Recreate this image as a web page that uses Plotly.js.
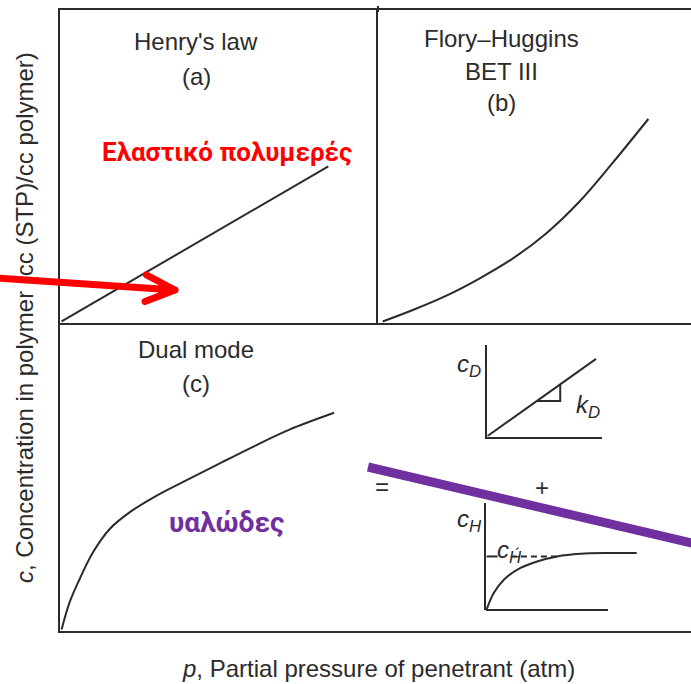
<!DOCTYPE html>
<html>
<head>
<meta charset="utf-8">
<script src="https://cdn.plot.ly/plotly-3.0.1.min.js"></script>
<style>
  html, body { margin: 0; padding: 0; background: #fff; }
  #chart { width: 691px; height: 684px; }
</style>
</head>
<body>
<div id="chart"></div>
<script>
// ---- Data (schematic units) ----
// (a) Henry's law
const henryP = [0, 8.43];
const henryC = [0, 4.98];
// (b) Flory–Huggins / BET III
const floryP = [0.1, 1.05, 2.13, 3.19, 4.26, 5.33, 6.39, 7.45, 8.63];
const floryC = [0, 0.36, 0.82, 1.37, 2.01, 2.81, 3.82, 5.05, 6.5];
// (c) Dual mode
const dualP = [0, 0.26, 0.58, 1.0, 1.53, 2.16, 3.01, 4.07, 5.12, 6.18, 7.24, 8.66];
const dualC = [0, 0.9, 1.66, 2.52, 3.28, 3.82, 4.36, 4.92, 5.47, 6.01, 6.52, 7.07];
// inset c_D (Henry part)
const cdP = [0, 9.48];
const cdC = [0, 8.47];
const slopeP = [4.32, 6.35, 6.35];
const slopeC = [3.86, 3.86, 5.67];
// inset c_H (Langmuir part)
const chP = [0, 0.6, 1.42, 2.79, 4.16, 5.8, 7.7, 10.16, 12.35];
const chC = [0, 1.56, 2.8, 3.9, 4.51, 4.98, 5.23, 5.3, 5.3];
const capSolidP = [0, 0.9];
const capDashP = [2.0, 5.8];
const capLevel = 4.98;

// ---- Text ----
const panelTitles = ["Henry's law", "(a)", "Flory–Huggins", "BET III", "(b)", "Dual mode", "(c)"];
const xTitle = "<i>p</i>, Partial pressure of penetrant (atm)";
const yTitle = "<i>c</i>, Concentration in polymer (cc (STP)/cc polymer)";
const redLabel = "Ελαστικό πολυμερές";
const purpleLabel = "υαλώδες";

const W = 691, H = 684;
const INK = '#2b2b2b';
const FONT = 'Liberation Sans, Arial, Helvetica, sans-serif';
const GREEK = 'Roboto, Noto Sans, sans-serif';

function ax(domain, range, extra) {
  return Object.assign({
    domain: domain, range: range, showgrid: false, zeroline: false,
    showticklabels: false, ticks: '', showline: false,
    linecolor: INK, linewidth: 2, fixedrange: true
  }, extra || {});
}
const yTop = [1 - 323 / H, 1 - 10 / H];

function line(x, y, xa, ya, extra) {
  return Object.assign({
    x: x, y: y, xaxis: xa, yaxis: ya, type: 'scatter', mode: 'lines',
    line: { color: INK, width: 2, shape: 'spline', smoothing: 1 },
    hoverinfo: 'skip'
  }, extra || {});
}

const traces = [
  line(henryP, henryC, 'x', 'y', { line: { color: INK, width: 2 } }),
  line(floryP, floryC, 'x2', 'y2'),
  line(dualP, dualC, 'x3', 'y3'),
  line(cdP, cdC, 'x4', 'y4', { line: { color: INK, width: 2 } }),
  line(slopeP, slopeC, 'x4', 'y4', { line: { color: INK, width: 2 } }),
  line(chP, chC, 'x5', 'y5'),
  line(capSolidP, [capLevel, capLevel], 'x5', 'y5', { line: { color: INK, width: 2 } }),
  line(capDashP, [capLevel, capLevel], 'x5', 'y5', { line: { color: INK, width: 2, dash: '6px,4px' } })
];

function ann(text, x, y, opts) {
  return Object.assign({
    text: text, x: x, y: y, xref: 'x6', yref: 'y6', showarrow: false,
    xanchor: 'center', yanchor: 'middle',
    font: { family: FONT, size: 24, color: INK }
  }, opts || {});
}
const sub = { family: FONT, size: 24, color: INK };

const annotations = [
  ann(panelTitles[0], 196, 41),
  ann(panelTitles[1], 196, 76),
  ann(panelTitles[2], 501, 38),
  ann(panelTitles[3], 501, 71),
  ann(panelTitles[4], 501, 102),
  ann(panelTitles[5], 196, 349),
  ann(panelTitles[6], 196, 383),
  ann('=', 382, 486),
  ann('+', 542, 487),
  ann('<i>c</i><sub><i>D</i></sub>', 455, 365, { xanchor: 'left', font: sub }),
  ann('<i>k</i><sub><i>D</i></sub>', 574, 406, { xanchor: 'left', font: sub }),
  ann('<i>c</i><sub><i>H</i></sub>', 455, 520, { xanchor: 'left', font: sub }),
  ann('<i>c</i><sub><i>H\u0301</i></sub>', 495, 551, { xanchor: 'left', font: sub }),
  ann(redLabel, 227, 152, { font: { family: GREEK, size: 26, color: '#FF0000', weight: 'bold' } }),
  ann(purpleLabel, 226, 522, { font: { family: GREEK, size: 28, color: '#7030A0', weight: 'bold' } }),
  ann(xTitle, 378, 668),
  ann(yTitle, 24, 318, { textangle: -90 })
];

const shapes = [
  // divider extends slightly above the top frame
  { type: 'line', xref: 'x6', yref: 'y6', x0: 378, x1: 378, y0: 6, y1: 12, line: { color: INK, width: 2 } },
  // c_H inset baseline (horizontal axis)
  { type: 'line', xref: 'x6', yref: 'y6', x0: 486, x1: 608, y0: 610, y1: 610, line: { color: INK, width: 2 } },
  // purple overlay stroke
  { type: 'line', xref: 'x6', yref: 'y6', x0: 368, y0: 467, x1: 700, y1: 545, line: { color: '#7030A0', width: 9 } },
  // red overlay arrow
  { type: 'path', xref: 'x6', yref: 'y6', path: 'M -10,277.5 L 175,290 M 146.5,275 L 175,290 L 145,301.5',
    line: { color: '#FF0000', width: 7 } }
];

const layout = {
  width: W, height: H,
  margin: { l: 0, r: 0, t: 0, b: 0 },
  paper_bgcolor: '#ffffff', plot_bgcolor: 'rgba(0,0,0,0)',
  showlegend: false, hovermode: false,
  xaxis: ax([60 / W, 378 / W], [-0.05, 10], { showline: true, mirror: true, anchor: 'y' }),
  yaxis: ax(yTop, [-0.05, 10], { showline: true, anchor: 'x' }),
  xaxis2: ax([378 / W, 1], [-0.05, 10], { showline: true, mirror: true, anchor: 'y2' }),
  yaxis2: ax(yTop, [-0.05, 10], { showline: true, anchor: 'x2' }),
  xaxis3: ax([60 / W, 1], [-0.05, 20], { showline: true, anchor: 'y3' }),
  yaxis3: ax([1 - 631 / H, 1 - 323 / H], [-0.05, 10], { showline: true, anchor: 'x3' }),
  xaxis4: ax([487 / W, 602 / W], [-0.05, 10], { showline: true, anchor: 'y4' }),
  yaxis4: ax([1 - 436.5 / H, 1 - 345 / H], [-0.05, 10], { showline: true, anchor: 'x4' }),
  xaxis5: ax([486 / W, 640 / W], [-0.05, 12.62], { anchor: 'y5' }),
  yaxis5: ax([1 - 610 / H, 1 - 503 / H], [-0.05, 10], { showline: true, anchor: 'x5' }),
  xaxis6: ax([0, 1], [0, W], { visible: false, anchor: 'y6' }),
  yaxis6: ax([0, 1], [H, 0], { visible: false, anchor: 'x6' }),
  annotations: annotations,
  shapes: shapes
};

const gd = document.getElementById('chart');
Plotly.newPlot(gd, traces, layout, { staticPlot: true, displayModeBar: false }).then(function () {
  // overlay strokes sit above every text, as in the annotated picture
  const above = gd.querySelector('.main-svg .layer-above');
  if (above && above.parentNode) above.parentNode.appendChild(above);
  const paths = gd.querySelectorAll('.layer-above .shapelayer path');
  paths.forEach(function (p) {
    if ((p.style.stroke || '').indexOf('255, 0, 0') >= 0 || p.getAttribute('data-index') === '3') {
      p.style.strokeLinecap = 'round';
      p.style.strokeLinejoin = 'round';
    }
  });
});
</script>
</body>
</html>
